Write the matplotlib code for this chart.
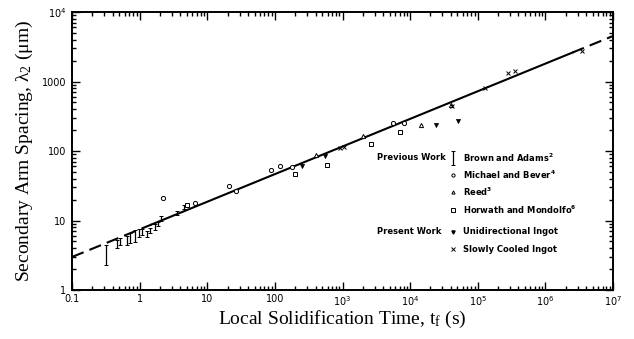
import numpy as np
import matplotlib.pyplot as plt
from matplotlib.ticker import FixedLocator, FixedFormatter, LogLocator, NullFormatter

plt.rcParams['mathtext.default'] = 'regular'

# Brown and Adams: scatter bands (t, low, high)
ba_t = [0.32, 0.46, 0.52, 0.65, 0.72, 0.85, 0.98, 1.1, 1.27, 1.4, 1.67, 1.86, 2.1, 3.6, 4.6]
ba_lo = [2.3, 4.0, 4.4, 4.5, 4.7, 4.9, 5.8, 6.2, 5.8, 6.6, 7.3, 8.3, 10.0, 12.0, 14.5]
ba_hi = [4.5, 5.2, 5.6, 6.0, 6.6, 7.3, 7.5, 7.5, 7.0, 7.8, 8.9, 9.6, 11.6, 13.6, 16.8]

# Michael and Bever (circles)
mb_t = [2.2, 6.6, 21, 27, 89, 117, 182, 5500, 8000]
mb_l = [21, 17.8, 31, 26.5, 53, 61, 59, 250, 250]

# Reed (triangles)
re_t = [400, 2030, 14600, 40000]
re_l = [88, 164, 236, 460]

# Horwath and Mondolfo (squares)
hm_t = [5.0, 195, 580, 2600, 7200]
hm_l = [17, 46.5, 63, 128, 188]

# present work, unidirectional ingot (inverted triangles)
ui_t = [248, 560, 24000, 51000]
ui_l = [61, 85, 236, 270]

# present work, slowly cooled ingot (crosses)
sc_t = [930, 1060, 42000, 128000, 280000, 360000, 3500000]
sc_l = [110, 114, 445, 805, 1320, 1420, 2750]

# fitted line lambda = a * t^n
fit_a = 7.46
fit_n = 0.3975

x_ticks = [0.1, 1, 10, 100, 1e3, 1e4, 1e5, 1e6, 1e7]
x_labels = ['0.1', '1', '10', '100', '$10^3$', '$10^4$', '$10^5$', '$10^6$', '$10^7$']
y_ticks = [1, 10, 100, 1000, 1e4]
y_labels = ['1', '10', '100', '1000', '$10^4$']

fig = plt.figure(figsize=(6.34, 3.39), dpi=100)
ax = fig.add_axes([0.1136, 0.1445, 0.8533, 0.820])
ax.set_xscale('log')
ax.set_yscale('log')
ax.set_xlim(0.1, 1e7)
ax.set_ylim(1, 1e4)

# fit line: dashed at the extrapolated ends
t_mid = np.logspace(np.log10(1.5), np.log10(2.5e6), 100)
t_lo = np.logspace(-1, np.log10(1.5), 30)
t_hi = np.logspace(np.log10(2.5e6), 7, 20)
ax.plot(t_mid, fit_a * t_mid ** fit_n, color='black', lw=1.5)
ax.plot(t_lo, fit_a * t_lo ** fit_n, color='black', lw=1.5, dashes=(6, 3))
ax.plot(t_hi, fit_a * t_hi ** fit_n, color='black', lw=1.5, dashes=(6, 3))

ba_t = np.array(ba_t)
ba_lo = np.array(ba_lo)
ba_hi = np.array(ba_hi)
ba_c = np.sqrt(ba_lo * ba_hi)
ax.errorbar(ba_t, ba_c, yerr=[ba_c - ba_lo, ba_hi - ba_c], fmt='none',
            ecolor='black', elinewidth=0.9, capsize=1.3, capthick=0.7)

ms = 3.0
ax.plot(mb_t, mb_l, 'o', ms=ms, mfc='white', mec='black', mew=0.7, ls='none')
ax.plot(re_t, re_l, '^', ms=ms, mfc='white', mec='black', mew=0.7, ls='none')
ax.plot(hm_t, hm_l, 's', ms=ms, mfc='white', mec='black', mew=0.7, ls='none')
ax.plot(ui_t, ui_l, 'v', ms=ms, mfc='black', mec='black', mew=0.5, ls='none')
ax.plot(sc_t, sc_l, 'x', ms=2.2, color='black', mew=0.7, ls='none')

# ticks
ax.xaxis.set_major_locator(FixedLocator(x_ticks))
ax.xaxis.set_major_formatter(FixedFormatter(x_labels))
ax.yaxis.set_major_locator(FixedLocator(y_ticks))
ax.yaxis.set_major_formatter(FixedFormatter(y_labels))
for axis in (ax.xaxis, ax.yaxis):
    axis.set_minor_locator(LogLocator(base=10, subs=np.arange(2, 10), numticks=20))
    axis.set_minor_formatter(NullFormatter())
ax.tick_params(which='both', direction='in', top=True, right=True, width=1.0)
ax.tick_params(which='major', length=6, labelsize=7)
ax.tick_params(which='minor', length=3)
ax.tick_params(axis='x', pad=3)
ax.tick_params(axis='y', pad=4)
for sp in ax.spines.values():
    sp.set_linewidth(1.4)

ax.set_xlabel('Local Solidification Time, t$_f$ (s)', family='Liberation Serif',
              fontsize=14, labelpad=1)
ax.set_ylabel('Secondary Arm Spacing, $\\lambda_2$ ($\\mu$m)', family='Liberation Serif',
              fontsize=14, labelpad=5)

# legend block
tr = ax.transAxes
lx, mx, tx = 0.564, 0.704, 0.723
rows = [0.475, 0.414, 0.353, 0.288, 0.209, 0.147]
fs = 6
ax.text(lx, rows[0], 'Previous Work', transform=tr, fontsize=fs, fontweight='bold', va='center')
ax.text(lx, rows[4], 'Present Work', transform=tr, fontsize=fs, fontweight='bold', va='center')
names = ['Brown and Adams$^2$', 'Michael and Bever$^4$', 'Reed$^3$',
         'Horwath and Mondolfo$^6$', 'Unidirectional Ingot', 'Slowly Cooled Ingot']
for y, name in zip(rows, names):
    ax.text(tx, y, name, transform=tr, fontsize=fs, fontweight='bold', va='center')
ax.errorbar([mx], [rows[0]], yerr=[[0.025], [0.025]], transform=tr, fmt='none',
            ecolor='black', elinewidth=0.9, capsize=1.3, capthick=0.7)
ax.plot([mx], [rows[1]], 'o', ms=2.3, mfc='white', mec='black', mew=0.7, transform=tr)
ax.plot([mx], [rows[2]], '^', ms=2.3, mfc='white', mec='black', mew=0.7, transform=tr)
ax.plot([mx], [rows[3]], 's', ms=2.3, mfc='white', mec='black', mew=0.7, transform=tr)
ax.plot([mx], [rows[4]], 'v', ms=2.3, mfc='black', mec='black', transform=tr)
ax.plot([mx], [rows[5]], 'x', ms=2.3, color='black', mew=0.7, transform=tr)

fig.savefig('out.png', dpi=100)
